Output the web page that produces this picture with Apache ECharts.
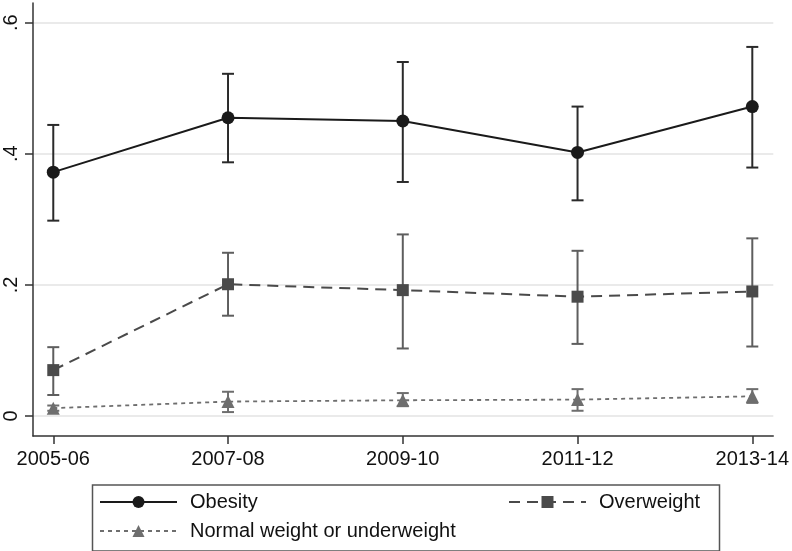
<!DOCTYPE html>
<html>
<head>
<meta charset="utf-8">
<script src="https://cdn.jsdelivr.net/npm/echarts@6/dist/echarts.min.js"></script>
<style>html,body{margin:0;padding:0;background:#fff}#c{width:792px;height:551px}</style>
</head>
<body>
<div id="c"></div>
<script>
const categories = ['2005-06', '2007-08', '2009-10', '2011-12', '2013-14'];
const obesity = [0.372, 0.455, 0.450, 0.402, 0.472];
const obesityLo = [0.298, 0.387, 0.357, 0.329, 0.379];
const obesityHi = [0.444, 0.522, 0.540, 0.472, 0.563];
const overweight = [0.070, 0.201, 0.192, 0.182, 0.190];
const overweightLo = [0.032, 0.153, 0.103, 0.110, 0.106];
const overweightHi = [0.105, 0.249, 0.277, 0.252, 0.271];
const normal = [0.012, 0.022, 0.024, 0.025, 0.030];
const normalLo = [0.008, 0.006, 0.015, 0.008, 0.020];
const normalHi = [0.016, 0.037, 0.035, 0.041, 0.041];
const yTicks = [0, 0.2, 0.4, 0.6];
const yTickLabels = ['0', '.2', '.4', '.6'];
const seriesNames = ['Obesity', 'Overweight', 'Normal weight or underweight'];

const FONT = 'Liberation Sans, Arial, Helvetica, sans-serif';
const idx = categories.map((c, i) => i);

function pts(vals) { return vals.map((v, i) => [idx[i], v]); }
function errData(lo, hi) { return lo.map((l, i) => [idx[i], l, hi[i]]); }
function errSeries(lo, hi, color) {
  return {
    type: 'custom',
    data: errData(lo, hi),
    z: 1,
    silent: true,
    renderItem: function (params, api) {
      const x = api.value(0);
      const a = api.coord([x, api.value(1)]);
      const b = api.coord([x, api.value(2)]);
      const w = 6;
      const st = { stroke: color, lineWidth: 2 };
      return {
        type: 'group',
        children: [
          { type: 'line', shape: { x1: a[0], y1: a[1], x2: b[0], y2: b[1] }, style: st },
          { type: 'line', shape: { x1: a[0] - w, y1: a[1], x2: a[0] + w, y2: a[1] }, style: st },
          { type: 'line', shape: { x1: b[0] - w, y1: b[1], x2: b[0] + w, y2: b[1] }, style: st }
        ]
      };
    }
  };
}

const chart = echarts.init(document.getElementById('c'));
const legendCommon = {
  itemWidth: 77, itemHeight: 15, padding: 0,
  textStyle: { fontFamily: FONT, fontSize: 20, color: '#111', padding: [0, 0, 0, 8] },
  selectedMode: false
};
chart.setOption({
  animation: false,
  backgroundColor: '#fff',
  grid: { left: 33, right: 17, top: 3, bottom: 115 },
  xAxis: {
    type: 'value', min: -0.116, max: 4.12,
    splitLine: { show: false },
    axisLine: { onZero: false, lineStyle: { color: '#333', width: 1.5 } },
    axisTick: { length: 8, lineStyle: { color: '#333', width: 1.5 }, customValues: idx },
    axisLabel: { customValues: idx, margin: 13, fontFamily: FONT, fontSize: 20, color: '#111',
      formatter: v => categories[Math.round(v)] }
  },
  yAxis: {
    type: 'value', min: -0.0305, max: 0.63,
    axisLine: { show: true, onZero: false, lineStyle: { color: '#333', width: 1.5 } },
    axisTick: { show: true, length: 8, lineStyle: { color: '#333', width: 1.5 }, customValues: yTicks },
    splitLine: { show: true, lineStyle: { color: '#e3e3e3', width: 1.5 } },
    axisLabel: { customValues: yTicks, rotate: 90, margin: 12, fontFamily: FONT, fontSize: 20, color: '#111',
      formatter: v => { const k = yTicks.findIndex(t => Math.abs(t - v) < 1e-6); return k >= 0 ? yTickLabels[k] : ''; } }
  },
  legend: [
    Object.assign({ data: [seriesNames[0]], left: 99, top: 492 }, legendCommon),
    Object.assign({ data: [seriesNames[1]], left: 508, top: 492 }, legendCommon),
    Object.assign({ data: [seriesNames[2]], left: 99, top: 521 }, legendCommon)
  ],
  graphic: [{
    type: 'rect', left: 90, top: 482.5, shape: { width: 627, height: 66 },
    style: { fill: 'none', stroke: '#555', lineWidth: 1.5 }, silent: true
  }],
  series: [
    errSeries(obesityLo, obesityHi, '#2a2a2a'),
    errSeries(overweightLo, overweightHi, '#5e5e5e'),
    errSeries(normalLo, normalHi, '#6e6e6e'),
    {
      name: seriesNames[0], type: 'line', data: pts(obesity), z: 3,
      symbol: 'circle', symbolSize: 13,
      lineStyle: { color: '#1a1a1a', width: 2 },
      itemStyle: { color: '#1a1a1a' }
    },
    {
      name: seriesNames[1], type: 'line', data: pts(overweight), z: 3,
      symbol: 'rect', symbolSize: 12,
      lineStyle: { color: '#4a4a4a', width: 2, type: [11, 7] },
      itemStyle: { color: '#4a4a4a' }
    },
    {
      name: seriesNames[2], type: 'line', data: pts(normal), z: 3,
      symbol: 'triangle', symbolSize: 13,
      lineStyle: { color: '#6e6e6e', width: 1.8, type: [4, 4] },
      itemStyle: { color: '#6e6e6e' }
    }
  ]
});
</script>
</body>
</html>
